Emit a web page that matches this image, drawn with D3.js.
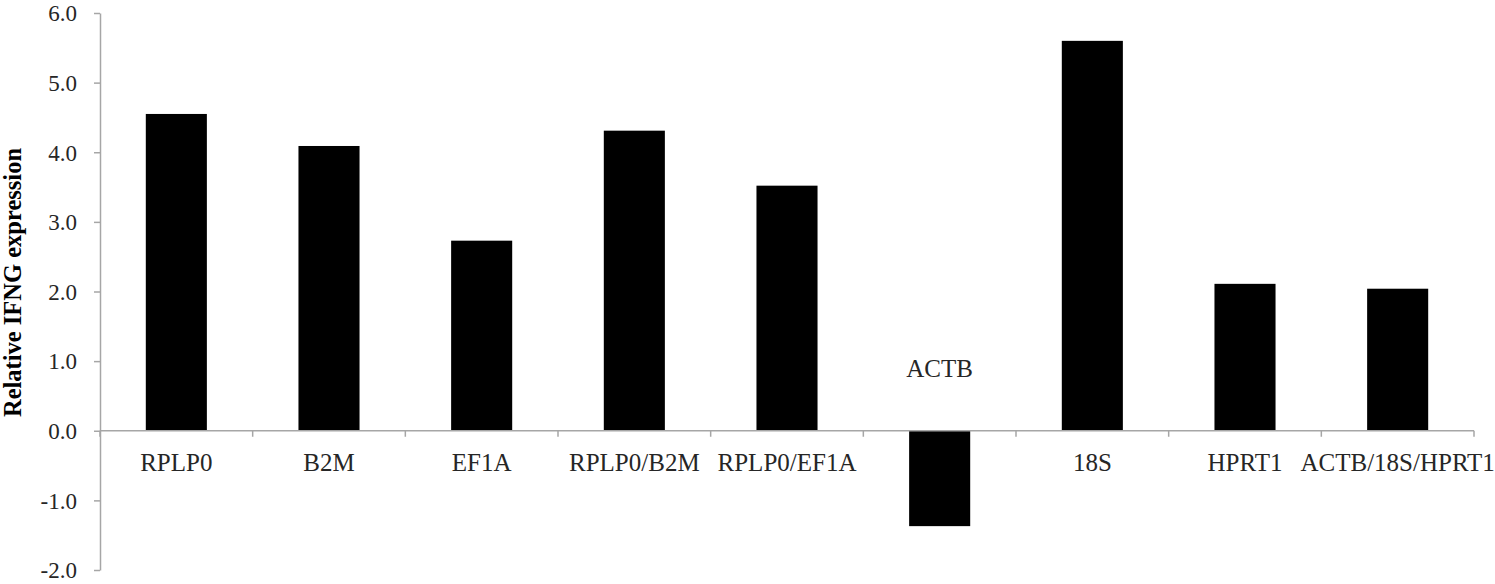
<!DOCTYPE html>
<html>
<head>
<meta charset="utf-8">
<script src="https://cdn.jsdelivr.net/npm/d3@7"></script>
<style>
  body { margin: 0; background: #fff; }
  text { font-family: "Liberation Serif", "Times New Roman", serif; fill: #262626; }
</style>
</head>
<body>
<div id="chart"></div>
<script>
// Reference genes and the relative IFNG expression
var genes = ['RPLP0', 'B2M', 'EF1A', 'RPLP0/B2M', 'RPLP0/EF1A', 'ACTB', '18S', 'HPRT1', 'ACTB/18S/HPRT1'];
var expression = [4.55, 4.09, 2.73, 4.31, 3.52, -1.37, 5.60, 2.11, 2.04];
var yTicks = [-2, -1, 0, 1, 2, 3, 4, 5, 6];
var yTitle = 'Relative IFNG expression';

var width = 1495, height = 584;
var margins = { left: 100, right: 1474, top: 13, bottom: 570 };

var svg = d3.select('#chart').append('svg')
            .attr('width', width)
            .attr('height', height);

var x = d3.scaleBand()
          .domain(genes)
          .range([margins.left, margins.right])
          .paddingInner(0.6)
          .paddingOuter(0.3);

var y = d3.scaleLinear()
          .domain([-2, 6])
          .range([margins.bottom, margins.top]);

// Bars, drawn from zero up or down
svg.append('g').selectAll('rect')
   .data(genes)
   .enter().append('rect')
   .attr('x', function(d) { return x(d); })
   .attr('width', x.bandwidth())
   .attr('y', function(d, i) { return y(Math.max(0, expression[i])); })
   .attr('height', function(d, i) { return Math.abs(y(expression[i]) - y(0)); })
   .style('fill', '#000');

// Y axis with one decimal labels (plain hyphen for negatives, like Excel)
var fmt = d3.format('.1f');
var yAxis = d3.axisLeft(y)
              .tickValues(yTicks)
              .tickSizeInner(6)
              .tickSizeOuter(0)
              .tickPadding(17)
              .tickFormat(function(d) { return fmt(d).replace('\u2212', '-'); });

var gy = svg.append('g')
            .attr('transform', 'translate(' + margins.left + ',0)')
            .call(yAxis);
gy.selectAll('text').style('font-size', '23px').attr('dy', '0.34em');

// Category axis sits at zero, ticks between the categories
var step = x.step();
var boundaries = d3.range(genes.length + 1).map(function(i) { return margins.left + i * step; });
var gx = svg.append('g');
gx.append('line')
  .attr('x1', margins.left).attr('x2', margins.right)
  .attr('y1', y(0)).attr('y2', y(0));
gx.selectAll('line.tick')
  .data(boundaries)
  .enter().append('line')
  .attr('class', 'tick')
  .attr('x1', function(d) { return d; })
  .attr('x2', function(d) { return d; })
  .attr('y1', y(0)).attr('y2', y(0) + 6);

// labels go below the axis, or above it when the bar is negative
gx.selectAll('text')
  .data(genes)
  .enter().append('text')
  .attr('x', function(d) { return x(d) + x.bandwidth() / 2; })
  .attr('y', function(d, i) { return expression[i] < 0 ? y(0) - 54 : y(0) + 40; })
  .attr('text-anchor', 'middle')
  .style('font-size', '25px')
  .text(function(d) { return d; });

svg.selectAll('.domain, .tick line, g line')
   .style('stroke', '#a6a6a6')
   .style('stroke-width', 1.5);

svg.append('text')
   .attr('transform', 'translate(21,' + ((margins.top + margins.bottom) / 2 - 9) + ') rotate(-90)')
   .attr('text-anchor', 'middle')
   .style('font-size', '24.5px')
   .style('font-weight', 'bold')
   .style('fill', '#000')
   .text(yTitle);
</script>
</body>
</html>
